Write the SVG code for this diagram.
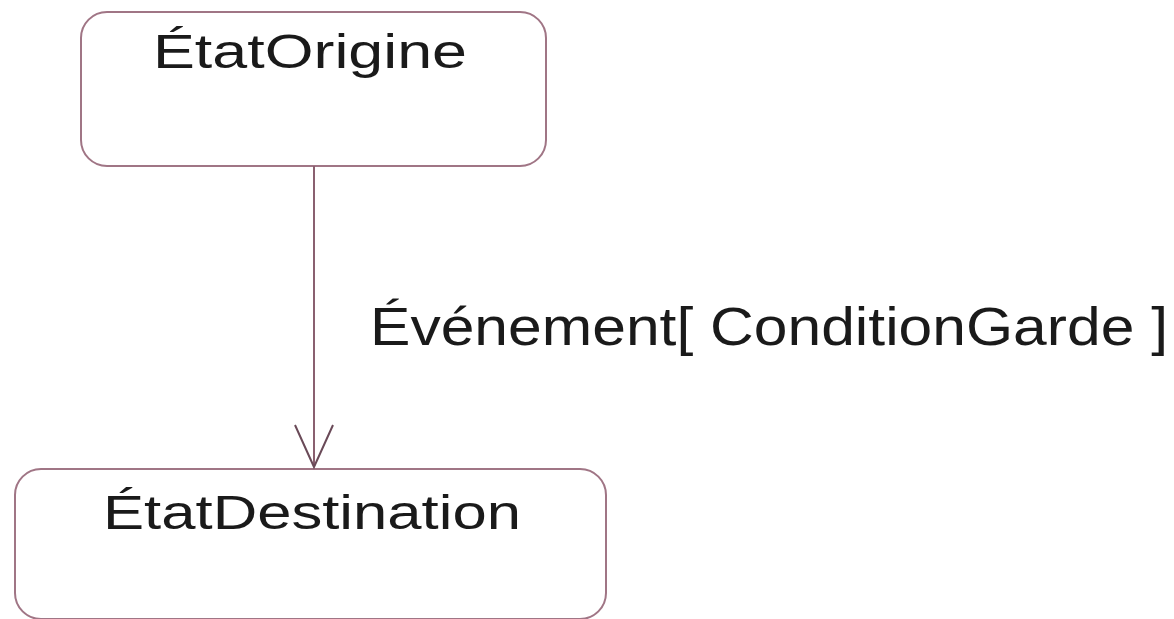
<svg xmlns="http://www.w3.org/2000/svg" width="1174" height="619" viewBox="0 0 1174 619">
  <style>
    .state { fill: #ffffff; stroke: #a07585; stroke-width: 2; }
    .label { font-family: "Liberation Sans", Arial, sans-serif; fill: #1a1a1a; }
    .edge { fill: none; stroke: #8a6070; stroke-width: 2; }
  </style>
  <defs>
    <marker id="open-arrow" markerWidth="44" markerHeight="48" refX="21" refY="44" orient="0" markerUnits="userSpaceOnUse">
      <path d="M2,2 L21,44 L40,2" fill="none" stroke="#6a4a58" stroke-width="2"/>
    </marker>
  </defs>
  <rect width="1174" height="619" fill="#ffffff"/>

  <g id="etat-origine">
    <rect class="state" x="81" y="12" width="465" height="154" rx="26" ry="26"/>
    <text class="label" x="310" y="68" font-size="49" text-anchor="middle" textLength="314" lengthAdjust="spacingAndGlyphs">ÉtatOrigine</text>
  </g>

  <g id="etat-destination">
    <rect class="state" x="15" y="469" width="591" height="150" rx="26" ry="26"/>
    <text class="label" x="312" y="529" font-size="49" text-anchor="middle" textLength="418" lengthAdjust="spacingAndGlyphs">ÉtatDestination</text>
  </g>

  <g id="connectors">
    <line class="edge" x1="314" y1="166" x2="314" y2="467" marker-end="url(#open-arrow)"/>
    <text class="label" x="370" y="345" font-size="53" textLength="798" lengthAdjust="spacingAndGlyphs">Événement[ ConditionGarde ]</text>
  </g>
</svg>
